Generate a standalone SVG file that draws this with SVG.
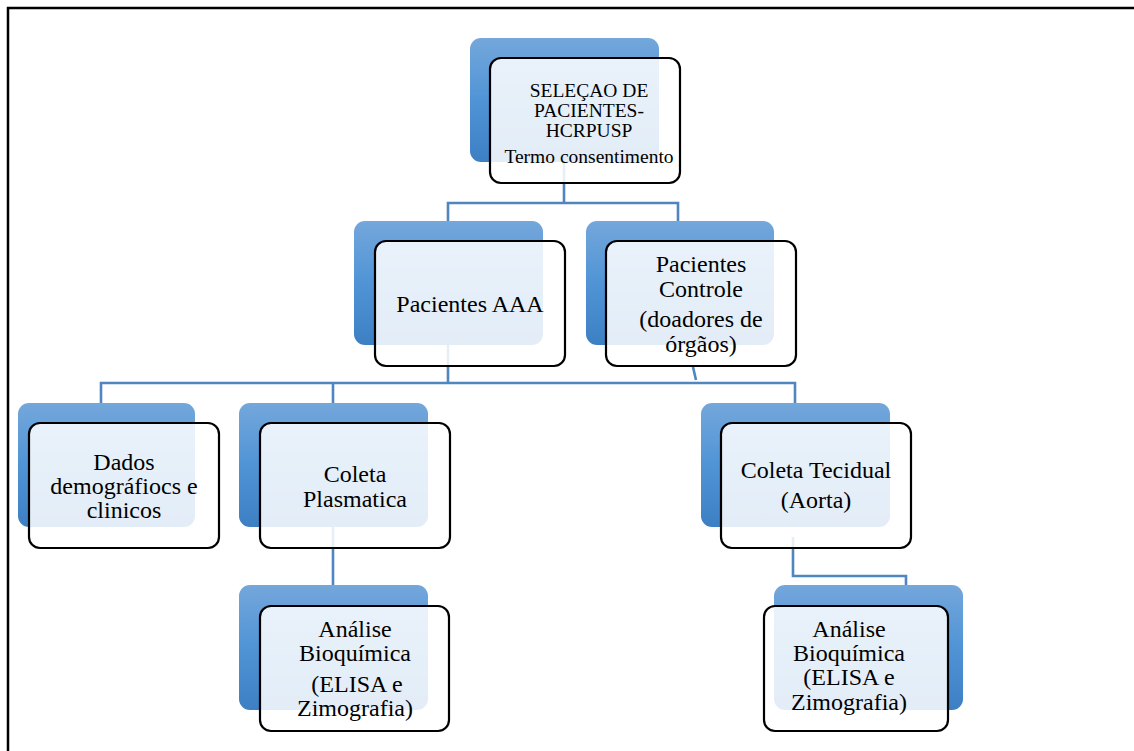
<svg xmlns="http://www.w3.org/2000/svg" width="1134" height="751" viewBox="0 0 1134 751">
<style>
.bg{fill:url(#bl)}
.box{fill:#ffffff;fill-opacity:0.86;stroke:#000;stroke-width:2.2}
.conn{fill:none;stroke:#4f86c0;stroke-width:2.6}
text{font-family:"Liberation Serif","Times New Roman",serif;font-size:24px;fill:#000;text-anchor:middle}
.t20{font-size:19.5px}
</style>
<defs>
<linearGradient id="bl" x1="0" y1="0" x2="0" y2="1">
<stop offset="0" stop-color="#74a7db"/>
<stop offset="0.5" stop-color="#5094d6"/>
<stop offset="1" stop-color="#3d7fc3"/>
</linearGradient>
</defs>
<rect x="0" y="0" width="1134" height="751" fill="#fff"/>
<path d="M8 751 V8 H1134" fill="none" stroke="#000" stroke-width="2.5"/>

<g id="backs">
<rect class="bg" x="470" y="38" width="189" height="124" rx="11"/>
<rect class="bg" x="354" y="221" width="189" height="124" rx="11"/>
<rect class="bg" x="586" y="221" width="188" height="124" rx="11"/>
<rect class="bg" x="18" y="403" width="177" height="124" rx="11"/>
<rect class="bg" x="239" y="403" width="189" height="124" rx="11"/>
<rect class="bg" x="701" y="403" width="189" height="124" rx="11"/>
<rect class="bg" x="239" y="585" width="189" height="125" rx="11"/>
<rect class="bg" x="774" y="585" width="189" height="125" rx="11"/>
</g>

<g id="connectors">
<path class="conn" d="M564 162 V203 M448 221 V203 H678 V221"/>
<path class="conn" d="M448 345 V383 M101 403 V383 H795 V403 M333 383 V403"/>
<path class="conn" d="M693 367 L696 380"/>
<path class="conn" d="M333 527 V585"/>
<path class="conn" d="M793 537 V576 H906 V585"/>
</g>

<g id="n-selecao">
<rect class="box" x="490" y="58" width="190" height="125" rx="11"/>
<text class="t20" x="589" y="97">SELEÇAO DE</text>
<text class="t20" x="589" y="117">PACIENTES-</text>
<text class="t20" x="589" y="137">HCRPUSP</text>
<text class="t20" x="589" y="163">Termo consentimento</text>
</g>

<g id="n-aaa">
<rect class="box" x="375" y="241" width="190" height="125" rx="11"/>
<text x="470" y="312">Pacientes AAA</text>
</g>

<g id="n-controle">
<rect class="box" x="606" y="241" width="190" height="125" rx="11"/>
<text x="701" y="272">Pacientes</text>
<text x="701" y="297">Controle</text>
<text x="701" y="327">(doadores de</text>
<text x="701" y="352">órgãos)</text>
</g>

<g id="n-dados">
<rect class="box" x="29" y="423" width="190" height="125" rx="11"/>
<text x="124" y="470">Dados</text>
<text x="124" y="494">demográfiocs e</text>
<text x="124" y="518">clinicos</text>
</g>

<g id="n-plasmatica">
<rect class="box" x="260" y="423" width="190" height="125" rx="11"/>
<text x="355" y="482">Coleta</text>
<text x="355" y="507">Plasmatica</text>
</g>

<g id="n-tecidual">
<rect class="box" x="721" y="423" width="190" height="125" rx="11"/>
<text x="816" y="478">Coleta Tecidual</text>
<text x="816" y="508">(Aorta)</text>
</g>

<g id="n-analise-1">
<rect class="box" x="260" y="606" width="189" height="125" rx="11"/>
<text x="355" y="637">Análise</text>
<text x="355" y="661">Bioquímica</text>
<text x="357" y="692">(ELISA e</text>
<text x="355" y="716">Zimografia)</text>
</g>

<g id="n-analise-2">
<rect class="box" x="764" y="606" width="184" height="125" rx="11"/>
<text x="849" y="637">Análise</text>
<text x="849" y="661">Bioquímica</text>
<text x="849" y="685">(ELISA e</text>
<text x="849" y="710">Zimografia)</text>
</g>
</svg>
